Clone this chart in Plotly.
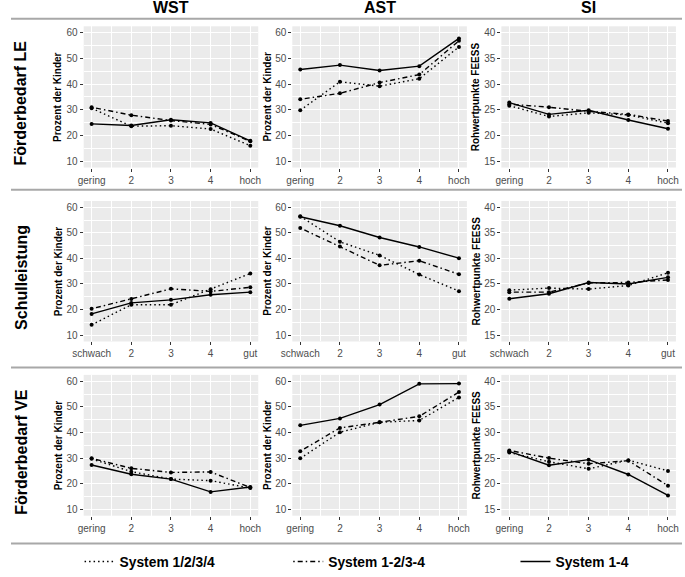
import numpy as np
import plotly.graph_objects as go

# ---------------- data ----------------
levels_le = ["gering", "2", "3", "4", "hoch"]
levels_sl = ["schwach", "2", "3", "4", "gut"]
levels_ve = ["gering", "2", "3", "4", "hoch"]

row_labels = ["Förderbedarf LE", "Schulleistung", "Förderbedarf VE"]
col_labels = ["WST", "AST", "SI"]
y_titles = ["Prozent der Kinder", "Prozent der Kinder", "Rohwertpunkte FEESS"]
series_names = ["System 1/2/3/4", "System 1-2/3-4", "System 1-4"]

# Förderbedarf LE
le_wst_1234 = [30.6, 23.6, 23.8, 22.5, 16.0]
le_wst_12_34 = [31.0, 27.9, 25.8, 24.3, 17.7]
le_wst_1_4 = [24.5, 23.9, 26.1, 24.9, 17.9]
le_ast_1234 = [29.8, 40.9, 39.2, 42.1, 54.5]
le_ast_12_34 = [34.1, 36.4, 40.6, 43.7, 56.9]
le_ast_1_4 = [45.7, 47.4, 45.3, 47.0, 57.8]
le_si_1234 = [25.8, 23.7, 24.4, 24.0, 22.4]
le_si_12_34 = [26.1, 25.5, 24.7, 24.1, 22.8]
le_si_1_4 = [26.4, 24.1, 24.9, 23.0, 21.3]

# Schulleistung
sl_wst_1234 = [14.0, 21.9, 21.9, 27.9, 34.1]
sl_wst_12_34 = [20.3, 24.1, 28.1, 27.1, 28.7]
sl_wst_1_4 = [18.3, 22.6, 23.8, 25.8, 26.8]
sl_ast_1234 = [56.5, 46.5, 41.2, 33.7, 27.2]
sl_ast_12_34 = [51.9, 44.7, 37.3, 39.1, 33.8]
sl_ast_1_4 = [56.3, 52.8, 48.2, 44.5, 40.1]
sl_si_1234 = [23.8, 24.2, 24.0, 24.7, 27.2]
sl_si_12_34 = [23.4, 23.4, 25.2, 25.3, 25.8]
sl_si_1_4 = [22.1, 23.1, 25.3, 25.0, 26.3]

# Förderbedarf VE
ve_wst_1234 = [29.7, 24.7, 21.8, 21.2, 18.3]
ve_wst_12_34 = [29.9, 26.0, 24.4, 24.6, 18.5]
ve_wst_1_4 = [27.3, 23.7, 21.8, 16.8, 18.7]
ve_ast_1234 = [29.9, 40.1, 44.0, 44.7, 53.7]
ve_ast_12_34 = [32.7, 41.8, 44.0, 46.3, 55.8]
ve_ast_1_4 = [42.8, 45.5, 50.9, 59.0, 59.1]
ve_si_1234 = [26.1, 24.3, 22.9, 24.6, 22.5]
ve_si_12_34 = [26.5, 25.0, 23.9, 24.5, 19.6]
ve_si_1_4 = [26.3, 23.6, 24.7, 21.8, 17.7]

pct_limits = [10, 60]
pct_breaks = [10, 20, 30, 40, 50, 60]
si_limits = [15, 40]
si_breaks = [15, 20, 25, 30, 35, 40]

panels = [
    [[le_wst_1234, le_wst_12_34, le_wst_1_4], [le_ast_1234, le_ast_12_34, le_ast_1_4], [le_si_1234, le_si_12_34, le_si_1_4]],
    [[sl_wst_1234, sl_wst_12_34, sl_wst_1_4], [sl_ast_1234, sl_ast_12_34, sl_ast_1_4], [sl_si_1234, sl_si_12_34, sl_si_1_4]],
    [[ve_wst_1234, ve_wst_12_34, ve_wst_1_4], [ve_ast_1234, ve_ast_12_34, ve_ast_1_4], [ve_si_1234, ve_si_12_34, ve_si_1_4]],
]
row_levels = [levels_le, levels_sl, levels_ve]

# ---------------- layout geometry (pixels) ----------------
W, H = 685, 577
col_px = [(74.2, 252.4), (287.2, 465.4), (500.6, 678.8)]
row_px = [(26.8, 170.5), (204.5, 347.5), (381.5, 524.8)]
ytitle_x = [48, 262, 475]
sep_lines = [19, 193, 374, 553]
legend_x_px = [70, 283, 515]
legend_top_px = 556

FONT = "Liberation Sans, Arial, sans-serif"
dashes = ["1.5px,3px", "1.5px,3px,5px,3px", "solid"]
legend_ids = ["legend", "legend2", "legend3"]

fig = go.Figure()
layout = {}

for r in range(3):
    for c in range(3):
        k = r * 3 + c + 1
        xa = "x" if k == 1 else f"x{k}"
        ya = "y" if k == 1 else f"y{k}"
        levels = row_levels[r]
        xs = np.arange(1, len(levels) + 1)
        for s in range(3):
            vals = panels[r][c][s]
            fig.add_trace(go.Scatter(
                x=xs, y=vals, mode="lines", xaxis=xa, yaxis=ya,
                line=dict(color="black", width=1.4, dash=dashes[s]),
                name=f"<b>{series_names[s]}</b>", legendgroup=series_names[s],
                legend=legend_ids[s],
                showlegend=(k == 1), hoverinfo="skip"))
            fig.add_trace(go.Scatter(
                x=xs, y=vals, mode="markers", xaxis=xa, yaxis=ya,
                marker=dict(color="black", size=4),
                name=series_names[s], legendgroup=series_names[s],
                legend=legend_ids[s],
                showlegend=False, hoverinfo="skip"))

        lims = si_limits if c == 2 else pct_limits
        brks = si_breaks if c == 2 else pct_breaks
        span = lims[1] - lims[0]
        yrange = [lims[0] - 0.05 * span, lims[1] + 0.05 * span]
        yminor = list((np.array(brks[:-1]) + np.array(brks[1:])) / 2)
        xrange = [xs[0] - 0.05 * (xs[-1] - xs[0]), xs[-1] + 0.05 * (xs[-1] - xs[0])]
        xminor = list((xs[:-1] + xs[1:]) / 2)

        x0, x1 = col_px[c]
        y0, y1 = row_px[r]
        tickfont = dict(family=FONT, size=10, color="#4D4D4D")
        layout["xaxis" if k == 1 else f"xaxis{k}"] = dict(
            domain=[x0 / W, x1 / W], anchor=ya, range=xrange,
            tickmode="array", tickvals=list(xs), ticktext=levels,
            ticks="outside", ticklen=3, tickcolor="#333333", tickwidth=1,
            showgrid=True, gridcolor="white", gridwidth=1.1,
            minor=dict(tickmode="array", tickvals=xminor, showgrid=True,
                       gridcolor="white", gridwidth=0.5, ticklen=0),
            zeroline=False, showline=False, tickfont=tickfont, fixedrange=True)
        layout["yaxis" if k == 1 else f"yaxis{k}"] = dict(
            domain=[1 - y1 / H, 1 - y0 / H], anchor=xa, range=yrange,
            tickmode="array", tickvals=brks,
            ticks="outside", ticklen=3, tickcolor="#333333", tickwidth=1,
            showgrid=True, gridcolor="white", gridwidth=1.1,
            minor=dict(tickmode="array", tickvals=yminor, showgrid=True,
                       gridcolor="white", gridwidth=0.5, ticklen=0),
            zeroline=False, showline=False, tickfont=tickfont, fixedrange=True)

annotations = []
for c in range(3):
    cx = (col_px[c][0] + col_px[c][1]) / 2
    annotations.append(dict(text=f"<b>{col_labels[c]}</b>", x=cx / W, y=1 - 8 / H,
                            xref="paper", yref="paper", showarrow=False,
                            xanchor="center", yanchor="middle",
                            font=dict(family=FONT, size=16, color="black")))
for r in range(3):
    cy = [104.5, 282, 460][r]
    annotations.append(dict(text=f"<b>{row_labels[r]}</b>", x=10 / W, y=1 - cy / H,
                            xref="paper", yref="paper", showarrow=False,
                            textangle=-90, xanchor="center", yanchor="middle",
                            font=dict(family=FONT, size=16, color="black")))
    ry = (row_px[r][0] + row_px[r][1]) / 2
    for c in range(3):
        annotations.append(dict(text=f"<b>{y_titles[c]}</b>", x=ytitle_x[c] / W, y=1 - ry / H,
                                xref="paper", yref="paper", showarrow=False,
                                textangle=-90, xanchor="center", yanchor="middle",
                                font=dict(family=FONT, size=10, color="black")))

shapes = [dict(type="line", xref="paper", yref="paper", x0=0, x1=1,
               y0=1 - yy / H, y1=1 - yy / H, line=dict(color="#A8A8A8", width=2))
          for yy in sep_lines]

legend_style = dict(orientation="h", xanchor="left", yanchor="top",
                    font=dict(family=FONT, size=13.8, color="black"),
                    bgcolor="rgba(0,0,0,0)", itemclick=False, itemdoubleclick=False)
for i, lid in enumerate(legend_ids):
    layout[lid] = dict(legend_style, x=legend_x_px[i] / W, y=1 - legend_top_px / H)

fig.update_layout(
    width=W, height=H, margin=dict(l=0, r=0, t=0, b=0),
    paper_bgcolor="white", plot_bgcolor="#EBEBEB",
    font=dict(family=FONT, color="black"),
    annotations=annotations, shapes=shapes,
    **layout,
)

fig.write_html("out.html", config={"displayModeBar": False},
               post_script="document.body.style.margin='0';document.body.style.padding='0';")
